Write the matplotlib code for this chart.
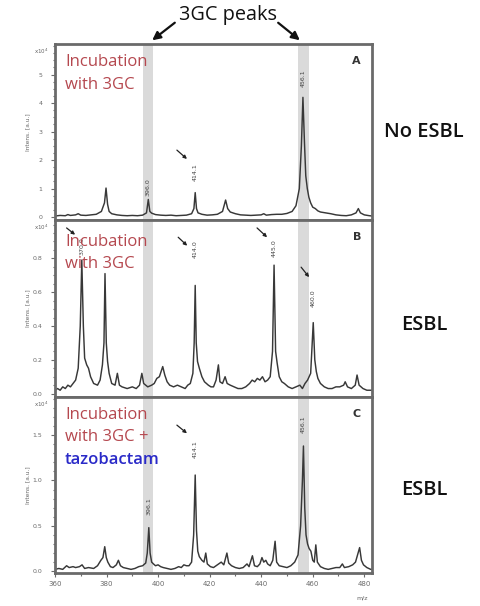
import matplotlib
matplotlib.use("Agg")
import matplotlib.pyplot as plt
from matplotlib.ticker import MultipleLocator

# ---------------- data (m/z, intensity x10^4) ----------------
mz_A = [360, 362, 364, 365, 366, 368, 369, 370, 372, 374, 376, 378, 379.2, 379.8, 380.4, 381, 382, 384,
        386, 388, 390, 392, 394, 395.5, 396.2, 396.8, 397.5, 399, 401, 403, 405, 407, 409, 411, 413,
        413.9, 414.4, 414.9, 415.5, 417, 419, 421, 423, 425, 426.2, 427, 428, 430, 432, 434, 436, 438,
        440, 441, 442, 444, 446, 448, 450, 452, 453.5, 454.8, 455.6, 456.2, 456.8, 457.3, 457.9, 458.5,
        459.2, 460, 461, 462, 463, 465, 467, 469, 471, 473, 475, 476.8, 477.7, 478.5, 480, 482, 483]
int_A = [0.04, 0.06, 0.05, 0.09, 0.06, 0.08, 0.12, 0.07, 0.06, 0.08, 0.10, 0.20, 0.50, 1.02, 0.45, 0.20,
         0.12, 0.08, 0.06, 0.05, 0.06, 0.05, 0.07, 0.15, 0.62, 0.20, 0.14, 0.09, 0.07, 0.06, 0.07, 0.05,
         0.06, 0.07, 0.12, 0.30, 0.86, 0.30, 0.15, 0.10, 0.07, 0.08, 0.10, 0.20, 0.60, 0.30, 0.18, 0.12,
         0.08, 0.07, 0.06, 0.07, 0.08, 0.12, 0.07, 0.09, 0.10, 0.10, 0.13, 0.20, 0.40, 1.00, 2.50, 4.20,
         2.60, 1.45, 1.00, 0.70, 0.50, 0.35, 0.30, 0.22, 0.18, 0.15, 0.12, 0.08, 0.06, 0.05, 0.08, 0.15,
         0.30, 0.15, 0.08, 0.05, 0.04]

mz_B = [360, 361, 362, 363, 364, 365, 366, 367, 368, 369, 369.8, 370.4, 371, 371.5, 372.3, 373, 373.8,
        375, 376.5, 377.5, 378.4, 379, 379.4, 379.9, 380.4, 381, 382, 383.3, 384.2, 385, 386, 388, 390,
        391.5, 392.8, 393.7, 394.4, 396, 397.5, 398.5, 399.5, 400.5, 401.8, 402.6, 403.5, 404.5, 406,
        407.5, 409, 410.5, 411.5, 412.5, 413.5, 414, 414.4, 414.8, 415.3, 416, 417, 418, 419.5, 420.5,
        421.5, 422.5, 423.4, 424, 425, 426, 426.8, 428, 429.5, 431, 432.5, 434, 435.5, 436.5, 437.5,
        438.5, 439.5, 440.5, 441.5, 442.5, 443.5, 444.4, 445, 445.6, 446.2, 447, 448, 449, 450.5, 452,
        453.5, 455, 456, 457, 458, 459.2, 459.8, 460.2, 460.8, 461.4, 462, 463, 464.5, 466, 467.5, 469,
        470.5, 472, 472.6, 473.5, 475, 476.5, 477.2, 478, 479.5, 481, 483]
int_B = [0.02, 0.03, 0.02, 0.04, 0.03, 0.05, 0.04, 0.06, 0.08, 0.15, 0.40, 0.79, 0.40, 0.21, 0.17, 0.15,
         0.10, 0.06, 0.05, 0.08, 0.17, 0.30, 0.71, 0.30, 0.19, 0.12, 0.06, 0.05, 0.12, 0.05, 0.04, 0.03,
         0.04, 0.03, 0.05, 0.12, 0.06, 0.04, 0.05, 0.06, 0.09, 0.10, 0.16, 0.11, 0.07, 0.05, 0.04, 0.05,
         0.04, 0.03, 0.05, 0.06, 0.12, 0.30, 0.64, 0.30, 0.19, 0.15, 0.10, 0.07, 0.05, 0.04, 0.04, 0.08,
         0.17, 0.07, 0.06, 0.10, 0.06, 0.05, 0.04, 0.03, 0.03, 0.04, 0.06, 0.08, 0.07, 0.09, 0.08, 0.10,
         0.07, 0.08, 0.10, 0.25, 0.76, 0.25, 0.18, 0.10, 0.07, 0.06, 0.04, 0.03, 0.04, 0.05, 0.03, 0.06,
         0.08, 0.12, 0.30, 0.42, 0.20, 0.13, 0.09, 0.06, 0.04, 0.03, 0.03, 0.04, 0.04, 0.05, 0.07, 0.04,
         0.03, 0.05, 0.11, 0.05, 0.03, 0.02, 0.02]

mz_C = [360, 361.5, 363, 364.5, 365.5, 367, 368, 369.5, 370.5, 371.5, 373, 375, 376.5, 377.8, 378.6,
        379.3, 379.9, 380.5, 381.5, 382.5, 383.8, 384.6, 385.4, 386.5, 388, 389.5, 391, 392.5, 394,
        395.2, 395.8, 396.4, 396.9, 397.5, 398.2, 399, 400, 401, 402, 403.5, 405, 406.5, 408, 409, 410,
        411, 412, 413, 413.8, 414.4, 414.9, 415.4, 416, 417, 417.8, 418.5, 419.1, 420.3, 421.5, 422.5,
        423.5, 424.5, 425.5, 426.7, 427.4, 428.5, 430, 431.5, 433, 434.5, 435.3, 436.6, 437.4, 438.5,
        439.5, 440.3, 441, 441.8, 442.5, 443.5, 444.5, 445.4, 446, 447, 448.5, 450, 451.5, 453, 454.3,
        455.3, 456, 456.4, 456.9, 457.4, 458, 458.6, 459.3, 460, 460.6, 461.2, 461.8, 463, 464.5, 466,
        467.5, 469, 470.5, 471.5, 472.3, 474, 475.5, 476.6, 477.4, 478.2, 478.9, 479.7, 481, 482.5, 483]
int_C = [0.02, 0.03, 0.02, 0.06, 0.04, 0.05, 0.04, 0.05, 0.07, 0.03, 0.04, 0.03, 0.06, 0.12, 0.15, 0.27,
         0.15, 0.10, 0.05, 0.04, 0.07, 0.12, 0.06, 0.04, 0.03, 0.02, 0.03, 0.05, 0.06, 0.09, 0.20, 0.48,
         0.20, 0.10, 0.08, 0.06, 0.07, 0.05, 0.04, 0.03, 0.02, 0.03, 0.05, 0.04, 0.07, 0.06, 0.06, 0.10,
         0.40, 1.06, 0.45, 0.22, 0.16, 0.12, 0.10, 0.20, 0.08, 0.05, 0.04, 0.06, 0.08, 0.10, 0.07, 0.20,
         0.09, 0.06, 0.04, 0.03, 0.04, 0.08, 0.05, 0.17, 0.06, 0.05, 0.08, 0.15, 0.10, 0.12, 0.08, 0.06,
         0.12, 0.33, 0.10, 0.06, 0.05, 0.04, 0.06, 0.10, 0.18, 0.50, 1.00, 1.38, 0.70, 0.40, 0.30, 0.25,
         0.22, 0.12, 0.10, 0.29, 0.10, 0.05, 0.03, 0.02, 0.03, 0.04, 0.04, 0.08, 0.04, 0.05, 0.07, 0.10,
         0.18, 0.26, 0.12, 0.07, 0.04, 0.02, 0.02]

# peak labels: (text, m/z, label bottom y)
labels_A = [("396.0", 396.2, 0.75), ("414.1", 414.4, 1.25), ("456.1", 456.2, 4.56)]
labels_B = [("370.0", 370.4, 0.82), ("414.0", 414.4, 0.80), ("445.0", 445.0, 0.81), ("460.0", 460.2, 0.51)]
labels_C = [("396.1", 396.4, 0.62), ("414.1", 414.4, 1.25), ("456.1", 456.4, 1.52)]

# small arrows: (x0, y0, x1, y1) in data units
arrows_A = [(407.3, 2.35, 411.2, 2.04)]
arrows_B = [(364.5, 0.98, 367.8, 0.94), (407.8, 0.925, 411.3, 0.875),
            (438.4, 0.98, 442.3, 0.925), (455.5, 0.748, 458.6, 0.689)]
arrows_C = [(407.3, 1.61, 411.2, 1.52)]

bands = [(394.3, 398.2), (454.2, 458.4)]
xticks = [360, 380, 400, 420, 440, 460, 480]
yticks_A = [0, 1, 2, 3, 4, 5]
yticks_B = [0.0, 0.2, 0.4, 0.6, 0.8]
yticks_C = [0.0, 0.5, 1.0, 1.5]

# ---------------- figure ----------------
W, H = 481, 606
fig = plt.figure(figsize=(W / 100, H / 100), dpi=100)
fig.patch.set_facecolor("white")

def fx(px):
    return px / W

def fy(py):
    return 1 - py / H

left, right = 55, 372
panels = [
    dict(top=44, bot=220, mz=mz_A, it=int_A, ylim=(-0.1, 6.07), yt=yticks_A, minor=0.25,
         fmt="{:.0f}", letter="A", labels=labels_A, arrows=arrows_A),
    dict(top=220, bot=397, mz=mz_B, it=int_B, ylim=(-0.02, 1.027), yt=yticks_B, minor=0.05,
         fmt="{:.1f}", letter="B", labels=labels_B, arrows=arrows_B),
    dict(top=397, bot=573, mz=mz_C, it=int_C, ylim=(-0.02, 1.92), yt=yticks_C, minor=0.1,
         fmt="{:.1f}", letter="C", labels=labels_C, arrows=arrows_C),
]

spine_col = "#6a6a6a"
tick_col = "#6a6a6a"
for i, p in enumerate(panels):
    ax = fig.add_axes([fx(left), fy(p["bot"]), fx(right - left), (p["bot"] - p["top"]) / H])
    for b0, b1 in bands:
        ax.axvspan(b0, b1, color="#dadada", lw=0, zorder=0)
    ax.plot(p["mz"], p["it"], color="#383838", lw=1.05, zorder=2)
    ax.set_xlim(360, 483)
    ax.set_ylim(*p["ylim"])
    for s in ax.spines.values():
        s.set_color(spine_col)
        s.set_linewidth(2.0)
    ax.set_yticks(p["yt"])
    ax.set_yticklabels([p["fmt"].format(t) for t in p["yt"]])
    ax.yaxis.set_minor_locator(MultipleLocator(p["minor"]))
    ax.tick_params(axis="y", which="major", direction="out", length=3, width=0.8,
                   colors=tick_col, labelsize=4.5, pad=6)
    ax.tick_params(axis="y", which="minor", direction="out", length=1.8, width=0.8, colors=tick_col)
    ax.set_xticks(xticks)
    ax.xaxis.set_minor_locator(MultipleLocator(10))
    if i < 2:
        ax.tick_params(axis="x", which="both", bottom=False, labelbottom=False)
    else:
        ax.tick_params(axis="x", which="major", direction="out", length=3, width=0.8,
                       colors=tick_col, labelsize=5, pad=3)
        ax.tick_params(axis="x", which="minor", direction="out", length=2, width=0.8, colors=tick_col)
    ax.text(0.965, 0.93, p["letter"], transform=ax.transAxes, ha="right", va="top",
            fontsize=8, fontweight="bold", color="#333333")
    for txt, x, y in p["labels"]:
        ax.text(x, y, txt, rotation=90, ha="center", va="bottom", fontsize=4.5,
                color="#444444", zorder=3)
    for x0, y0, x1, y1 in p["arrows"]:
        ax.annotate("", xy=(x1, y1), xytext=(x0, y0),
                    arrowprops=dict(arrowstyle="-|>", color="#222222", lw=0.9,
                                    mutation_scale=5, shrinkA=0, shrinkB=0), zorder=4)
    fig.text(fx(41), fy(p["top"] + 7), r"x10$^4$", fontsize=4, color="#666666",
             ha="center", va="center")
    fig.text(fx(28), fy((p["top"] + p["bot"]) / 2), "Intens. [a.u.]", rotation=90,
             fontsize=4.2, color="#666666", ha="center", va="center")

fig.text(fx(362), fy(598), "m/z", fontsize=4.5, color="#666666", ha="center", va="center")

# ---------------- annotations ----------------
red = "#b5484f"
blue = "#2a2ac8"
fam = ["Open Sans", "DejaVu Sans"]
fs = 12
fig.text(fx(65), fy(62), "Incubation", color=red, fontsize=fs, family=fam, va="center")
fig.text(fx(65), fy(85), "with 3GC", color=red, fontsize=fs, family=fam, va="center")
fig.text(fx(65), fy(242), "Incubation", color=red, fontsize=fs, family=fam, va="center")
fig.text(fx(65), fy(264), "with 3GC", color=red, fontsize=fs, family=fam, va="center")
fig.text(fx(65), fy(415), "Incubation", color=red, fontsize=fs, family=fam, va="center")
fig.text(fx(65), fy(437), "with 3GC +", color=red, fontsize=fs, family=fam, va="center")
fig.text(fx(65), fy(460), "tazobactam", color=blue, fontsize=fs, family=fam, va="center",
         fontweight="semibold")

for txt, py in [("No ESBL", 132), ("ESBL", 325), ("ESBL", 490)]:
    fig.text(fx(424), fy(py), txt, color="#111111", fontsize=14.5, family=fam,
             fontweight="semibold", ha="center", va="center")

fig.text(fx(228), fy(15), "3GC peaks", color="#111111", fontsize=14.3, family=fam,
         ha="center", va="center")
for (x0, y0, x1, y1) in [(177, 21, 150, 42), (276, 21, 302, 42)]:
    fig.add_artist(matplotlib.patches.FancyArrowPatch(
        (fx(x0), fy(y0)), (fx(x1), fy(y1)), transform=fig.transFigure,
        arrowstyle="-|>", mutation_scale=12, lw=1.6, color="#111111"))

fig.savefig("out.png", dpi=100, facecolor="white")
